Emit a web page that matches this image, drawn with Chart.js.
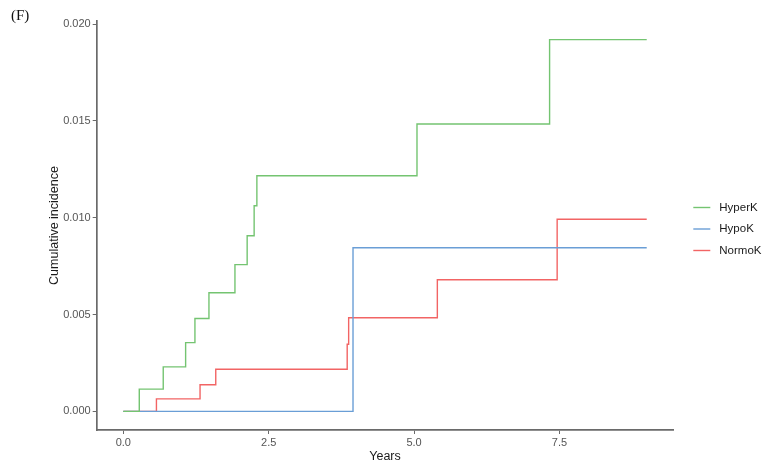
<!DOCTYPE html>
<html>
<head>
<meta charset="utf-8">
<script src="https://cdn.jsdelivr.net/npm/chart.js@4/dist/chart.umd.min.js"></script>
<style>
  html, body { margin: 0; padding: 0; background: #ffffff; }
  #wrap { width: 765px; height: 465px; position: relative; }
</style>
</head>
<body>
<div id="wrap"><canvas id="chart" width="765" height="465"></canvas></div>
<script>
// Cumulative incidence by potassium group (step functions)
const groupNames = ['HyperK', 'HypoK', 'NormoK'];
const groupColors = ['#74C471', '#6A9ED6', '#F26464'];

const hyperTimes = [0, 0.275, 0.687, 1.072, 1.232, 1.473, 1.92, 2.13, 2.25, 2.297, 5.05, 7.33, 9.0];
const hyperInc   = [0, 0.00115, 0.0023, 0.00355, 0.0048, 0.00613, 0.00758, 0.00907, 0.01062, 0.01217, 0.01484, 0.0192, 0.0192];

const hypoTimes = [0, 3.95, 9.0];
const hypoInc   = [0, 0.00845, 0.00845];

const normoTimes = [0, 0.57, 1.32, 1.59, 3.85, 3.875, 5.40, 7.46, 9.0];
const normoInc   = [0, 0.000645, 0.00138, 0.00218, 0.00347, 0.00484, 0.0068, 0.00992, 0.00992];

const xTicks = [0, 2.5, 5.0, 7.5];
const yTicks = [0, 0.005, 0.010, 0.015, 0.020];

const panelLabel = '(F)';
const xTitle = 'Years';
const yTitle = 'Cumulative incidence';

function toPoints(times, vals) {
  return times.map((t, i) => ({ x: t, y: vals[i] }));
}

const seriesTimes = [hyperTimes, hypoTimes, normoTimes];
const seriesVals = [hyperInc, hypoInc, normoInc];

const datasets = groupNames.map((name, i) => ({
  label: name,
  data: toPoints(seriesTimes[i], seriesVals[i]),
  borderColor: groupColors[i],
  backgroundColor: groupColors[i],
  borderWidth: 1.4,
  pointRadius: 0,
  stepped: true,
  fill: false
}));

const axisGray = '#6a6a6a';
const tickTextGray = '#555555';

// legend at the right plus the panel tag in the corner
const decorations = {
  id: 'decorations',
  afterDraw(chart) {
    const ctx = chart.ctx;
    ctx.save();
    ctx.font = '15px "Liberation Serif", "DejaVu Serif", serif';
    ctx.fillStyle = '#111111';
    ctx.textAlign = 'left';
    ctx.textBaseline = 'middle';
    ctx.fillText(panelLabel, 11, 16);

    const x0 = chart.chartArea.right + 20;
    const yMid = (chart.chartArea.top + chart.chartArea.bottom) / 2;
    const gap = 21.5;
    ctx.font = '11.5px "Liberation Sans", Arial, sans-serif';
    groupNames.forEach((name, i) => {
      const y = yMid + (i - 1) * gap + 3.5;
      ctx.strokeStyle = groupColors[i];
      ctx.lineWidth = 1.4;
      ctx.beginPath();
      ctx.moveTo(x0, y);
      ctx.lineTo(x0 + 17, y);
      ctx.stroke();
      ctx.fillStyle = '#1a1a1a';
      ctx.fillText(name, x0 + 26, y);
    });
    ctx.restore();
  }
};

new Chart(document.getElementById('chart'), {
  type: 'line',
  data: { datasets },
  options: {
    responsive: false,
    animation: false,
    layout: { padding: { left: 0, right: 91.7, top: 21, bottom: 0 } },
    plugins: { legend: { display: false }, tooltip: { enabled: false } },
    scales: {
      x: {
        type: 'linear',
        min: -0.457,
        max: 9.457,
        afterBuildTicks: (s) => { s.ticks = xTicks.map(v => ({ value: v })); },
        afterFit: (s) => { s.height = 35; },
        ticks: {
          callback: (v) => Number(v).toFixed(1),
          color: tickTextGray,
          font: { family: '"Liberation Sans", Arial, sans-serif', size: 11 },
          padding: 2,
          maxRotation: 0
        },
        grid: { display: true, drawOnChartArea: false, drawTicks: true, tickLength: 4, color: axisGray, lineWidth: 1 },
        border: { display: true, color: axisGray, width: 1.7 },
        title: {
          display: true,
          text: xTitle,
          color: '#1a1a1a',
          font: { family: '"Liberation Sans", Arial, sans-serif', size: 12.5 },
          padding: { top: 0, bottom: 1 }
        }
      },
      y: {
        type: 'linear',
        min: -0.00096,
        max: 0.02016,
        afterBuildTicks: (s) => { s.ticks = yTicks.map(v => ({ value: v })); },
        afterFit: (s) => { s.width = 96.7; },
        ticks: {
          callback: (v) => Number(v).toFixed(3),
          color: tickTextGray,
          font: { family: '"Liberation Sans", Arial, sans-serif', size: 11 },
          padding: 2
        },
        grid: { display: true, drawOnChartArea: false, drawTicks: true, tickLength: 4, color: axisGray, lineWidth: 1 },
        border: { display: true, color: axisGray, width: 1.7 },
        title: {
          display: true,
          text: yTitle,
          color: '#1a1a1a',
          font: { family: '"Liberation Sans", Arial, sans-serif', size: 12.5 },
          padding: { top: 47, bottom: 0 }
        }
      }
    }
  },
  plugins: [decorations]
});
</script>
</body>
</html>
